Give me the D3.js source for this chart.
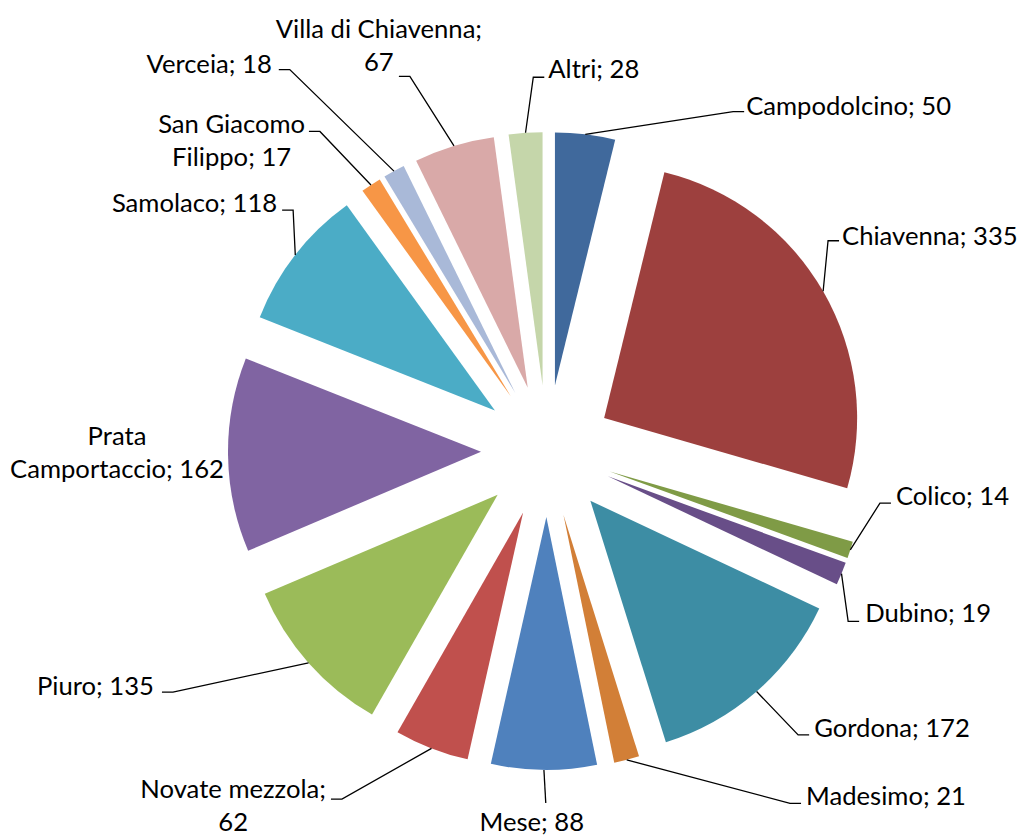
<!DOCTYPE html>
<html>
<head>
<meta charset="utf-8">
<script src="https://cdn.jsdelivr.net/npm/d3@7"></script>
<style>
  html, body { margin: 0; padding: 0; background: #ffffff; }
  svg { display: block; }
</style>
</head>
<body>
<svg id="chart" width="1022" height="836"></svg>
<script>
// ---- data ----
const categories = ["Campodolcino", "Chiavenna", "Colico", "Dubino", "Gordona", "Madesimo", "Mese",
  "Novate mezzola", "Piuro", "Prata Camportaccio", "Samolaco", "San Giacomo Filippo", "Verceia",
  "Villa di Chiavenna", "Altri"];
const values = [50, 335, 14, 19, 172, 21, 88, 62, 135, 162, 118, 17, 18, 67, 28];
const colors = ["#40699C", "#9D403E", "#7F9B46", "#684E88", "#3D8DA4", "#D27F37", "#4F81BD",
  "#C0504D", "#9BBB59", "#8064A2", "#4BACC6", "#F79646", "#A9B9D8", "#D9A9A8", "#C5D6AA"];
// words before the line break in each label (0 = one line)
const breakAfter = [0, 0, 0, 0, 0, 0, 0, 2, 0, 1, 0, 2, 0, 3, 0];

// ---- label layout (polar position of the leader elbow, tick direction, text offset) ----
const labelLayout = [
  { a: 28.75, r: 387, tick: 1, align: "start", tx: 13, ty: -7 },
  { a: 53.2, r: 351, tick: 1, align: "start", tx: 14, ty: -6 },
  { a: 98.9, r: 337, tick: 1, align: "start", tx: 16, ty: -8 },
  { a: 119.5, r: 346, tick: 1, align: "start", tx: 17, ty: -9 },
  { a: 138.5, r: 379, tick: 1, align: "start", tx: 16, ty: -8 },
  { a: 145.4, r: 428, tick: 1, align: "start", tx: 16, ty: -8 },
  { a: 180.2, r: 352, tick: 0, align: "middle", tx: -14, ty: 18 },
  { a: 210.5, r: 404, tick: -1, align: "end", tx: -16, ty: -11 },
  { a: 237.2, r: 445, tick: -1, align: "end", tx: -19, ty: -7 },
  { a: 270, r: 430, tick: 0, align: "middle", tx: 0, ty: -16, noLine: true },
  { a: 313.5, r: 350, tick: -1, align: "end", tx: -16, ty: -8 },
  { a: 324.6, r: 392, tick: -1, align: "end", tx: -15, ty: -8 },
  { a: 326, r: 460, tick: -1, align: "end", tx: -18, ty: -7 },
  { a: 339.9, r: 399, tick: -1, align: "middle", tx: -31, ty: -48 },
  { a: 357.9, r: 374, tick: 1, align: "start", tx: 15, ty: -9 }
];

const W = 1022, H = 836;
const cx = 547, cy = 451;
const radius = 253, explode = 66;
const tickLen = 11, lineGap = 33;
const fontFamily = "Lato, 'Open Sans', sans-serif";

const svg = d3.select("#chart");
const data = categories.map((c, i) => ({ name: c, value: values[i], color: colors[i], idx: i }));

const pie = d3.pie().sort(null).value(d => d.value);
const arcs = pie(data);
const arc = d3.arc().innerRadius(0).outerRadius(radius);

const toRad = a => a * Math.PI / 180;
const polar = (angRad, r) => [cx + r * Math.sin(angRad), cy - r * Math.cos(angRad)];

// slices
const g = svg.append("g");
g.selectAll("path.slice")
  .data(arcs)
  .join("path")
  .attr("class", "slice")
  .attr("d", arc)
  .attr("fill", d => d.data.color)
  .attr("transform", d => {
    const m = (d.startAngle + d.endAngle) / 2;
    const p = polar(m, explode);
    return `translate(${p[0]},${p[1]})`;
  });

// font size calibrated to a reference width
const probe = svg.append("text").attr("font-family", fontFamily).attr("font-size", 100)
  .text("Campodolcino; 50");
const probeW = probe.node().getComputedTextLength();
probe.remove();
const fontSize = 100 * 205 / probeW;

// labels
const lg = svg.append("g");
arcs.forEach((d, i) => {
  const L = labelLayout[i];
  const m = (d.startAngle + d.endAngle) / 2;
  const S = polar(m, explode + radius);
  const E = polar(toRad(L.a), L.r);
  const T = [E[0] + L.tick * tickLen, E[1]];
  if (!L.noLine) {
    lg.append("path")
      .attr("d", d3.line()([S, E, T]))
      .attr("fill", "none")
      .attr("stroke", "#000")
      .attr("stroke-width", 1.3);
  }
  const full = `${d.data.name}; ${d.data.value}`;
  const words = full.split(" ");
  const lines = breakAfter[i] > 0
    ? [words.slice(0, breakAfter[i]).join(" "), words.slice(breakAfter[i]).join(" ")]
    : [full];
  const t = lg.append("text")
    .attr("font-family", fontFamily)
    .attr("font-size", fontSize)
    .attr("fill", "#000")
    .attr("text-anchor", "middle")
    .attr("dominant-baseline", "central");
  const spans = lines.map((ln, k) => t.append("tspan").text(ln));
  const widths = spans.map(s => s.node().getComputedTextLength());
  const boxW = Math.max(...widths);
  const refX = E[0] + L.tx;
  let centerX;
  if (L.align === "start") centerX = refX + boxW / 2;
  else if (L.align === "end") centerX = refX - boxW / 2;
  else centerX = refX;
  spans.forEach((s, k) => {
    s.attr("x", centerX).attr("y", E[1] + L.ty + k * lineGap);
  });
});
</script>
</body>
</html>
